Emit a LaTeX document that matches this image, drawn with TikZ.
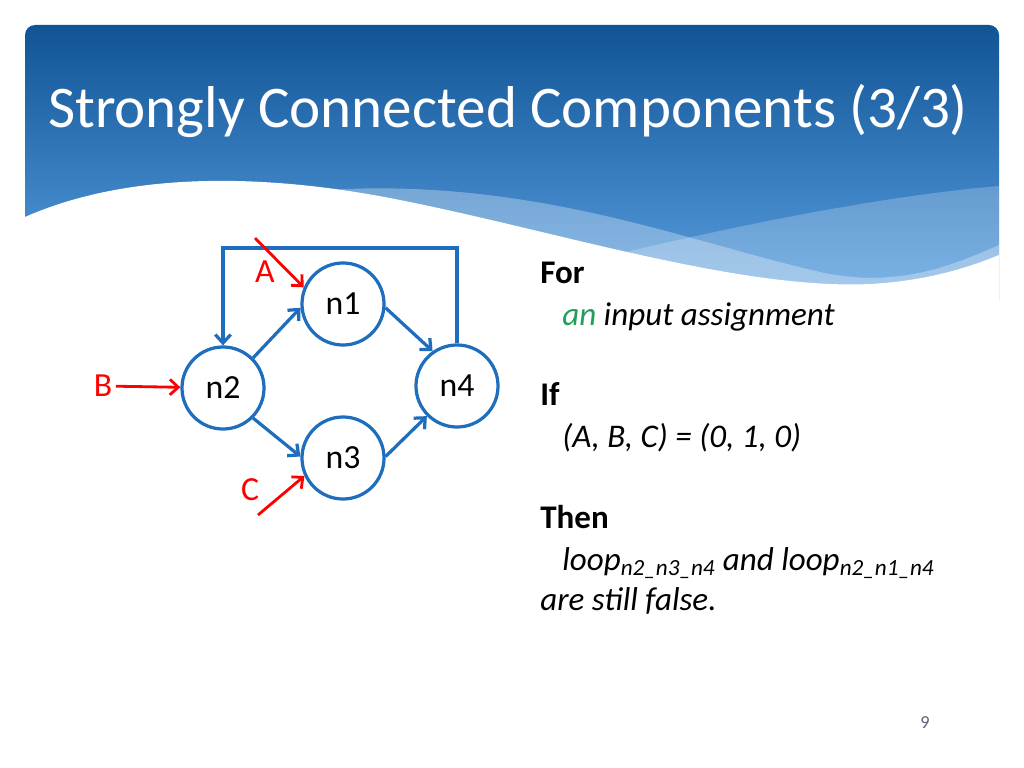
\documentclass[tikz,border=0pt]{standalone}
\usepackage{fontspec}
\setmainfont{Carlito}
\usetikzlibrary{arrows.meta}
\definecolor{hdrdark}{RGB}{16,84,150}
\definecolor{hdrlight}{RGB}{90,160,225}
\definecolor{edgeblue}{RGB}{31,110,190}
\definecolor{inred}{RGB}{255,0,0}
\definecolor{angreen}{RGB}{30,160,90}
\definecolor{pagegray}{RGB}{90,100,120}
\tikzset{
  vertex/.style={circle, draw=edgeblue, line width=2.3pt, minimum size=2.05cm, inner sep=0pt, font=\fontsize{24}{28}\selectfont},
  edge/.style={draw=edgeblue, line width=2.3pt, -{Straight Barb[length=6pt,width=11pt]}},
  input/.style={draw=inred, line width=2pt, -{Straight Barb[length=6pt,width=11pt]}},
  inlabel/.style={text=inred, inner sep=2.5pt, font=\fontsize{24}{28}\selectfont},
  body/.style={anchor=base west, inner sep=0pt, font=\fontsize{23.5}{28}\selectfont},
}
\begin{document}
\begin{tikzpicture}[x=0.025cm, y=-0.025cm]
        \useasboundingbox (0,0) rectangle (1024,768);
        \fill [white] (0,0) rectangle (1024,768);

        % Bandeau (haut)
        \begin{scope}
            \clip [rounded corners=0.25cm] (25,25) rectangle (999,330);
            \shade [top color=hdrdark, bottom color=hdrlight] (25,25) rectangle (999,300);
            \fill [white, opacity=0.3] (300,192) .. controls (520,172) and (680,240) .. (820,272) .. controls (900,290) and (960,262) .. (999,245) -- (999,330) -- (300,330) -- cycle;
            \fill [white, opacity=0.22] (560,268) .. controls (720,228) and (880,196) .. (999,186) -- (999,330) -- (560,330) -- cycle;
            \fill [white] (25,217) .. controls (120,175) and (250,170) .. (400,200) .. controls (560,232) and (740,290) .. (870,284) .. controls (930,281) and (975,265) .. (999,255) -- (999,330) -- (25,330) -- cycle;
        \end{scope}
        \node [anchor=base west, inner sep=0pt, text=white, font=\fontsize{42}{48}\selectfont] (title) at (48,128) {Strongly Connected Components (3/3)};

        % Graphe
        \node [vertex] (n1) at (343,304) {n1};
        \node [vertex] (n2) at (223,388) {n2};
        \node [vertex] (n3) at (343,458) {n3};
        \node [vertex] (n4) at (457,386) {n4};
        \draw [edge] (n2.45) -- (n1.185);
        \draw [edge] (n1.355) -- (n4.125);
        \draw [edge] (n2.315) -- (n3.178);
        \draw [edge] (n3.2) -- (n4.225);
        \coordinate (looptop) at (340,248);
        \draw [edge] (n4.north) |- (looptop) -| (n2.north);

        % Entrees
        \coordinate (Astart) at (255,238);
        \coordinate (Cstart) at (258,515);
        \node [inlabel] (A) at (265,272) {A};
        \node [inlabel] (B) at (103,386) {B};
        \node [inlabel] (C) at (250,490) {C};
        \draw [input] (Astart) -- (n1.157);
        \draw [input] (B) -- (n2);
        \draw [input] (Cstart) -- (n3.205);

        % Texte
        \node [body, font=\fontsize{23.5}{28}\bfseries] (for) at (540,283) {For};
        \node [body] (assign) at (562,325) {\itshape\textcolor{angreen}{an} input assignment};
        \node [body, font=\fontsize{23.5}{28}\bfseries] (if) at (540,405) {If};
        \node [body] (vals) at (562,447) {\itshape (A, B, C) = (0, 1, 0)};
        \node [body, font=\fontsize{23.5}{28}\bfseries] (then) at (540,528) {Then};
        \node [body] (loops) at (562,570) {\itshape loop\textsubscript{n2\_n3\_n4} and loop\textsubscript{n2\_n1\_n4}};
        \node [body] (false) at (540,610) {\itshape are still false.};
        \node [anchor=base, inner sep=0pt, text=pagegray, font=\fontsize{13}{15}\selectfont] (page) at (925,728) {9};
    \end{tikzpicture}
\end{document}
